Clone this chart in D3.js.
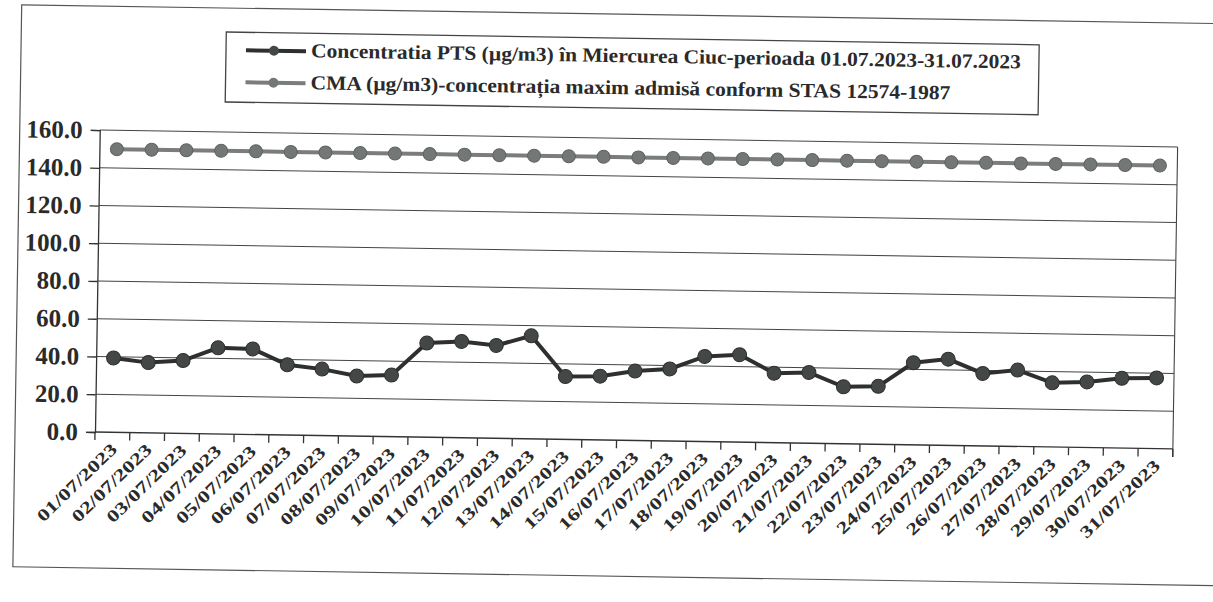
<!DOCTYPE html>
<html><head><meta charset="utf-8">
<script src="https://cdn.jsdelivr.net/npm/d3@7/dist/d3.min.js"></script>
<style>html,body{margin:0;padding:0;background:#fff;}svg{display:block;}</style>
</head><body>
<svg id="c" width="1213" height="602"></svg>
<script>
const dates = ["01/07/2023","02/07/2023","03/07/2023","04/07/2023","05/07/2023","06/07/2023","07/07/2023","08/07/2023","09/07/2023","10/07/2023","11/07/2023","12/07/2023","13/07/2023","14/07/2023","15/07/2023","16/07/2023","17/07/2023","18/07/2023","19/07/2023","20/07/2023","21/07/2023","22/07/2023","23/07/2023","24/07/2023","25/07/2023","26/07/2023","27/07/2023","28/07/2023","29/07/2023","30/07/2023","31/07/2023"];
const pts = [39.4,37.2,38.6,45.6,45.3,37.2,35.2,31.8,32.6,49.9,51.0,49.2,54.6,33.3,33.8,36.8,38.2,45.1,46.3,36.8,37.5,30.2,30.7,43.5,45.7,38.4,40.5,34.0,34.8,37.0,37.5];
const cma = dates.map(() => 150);
const yTicks = [0,20,40,60,80,100,120,140,160];
const legendLabels = ["Concentratia PTS (µg/m3) în Miercurea Ciuc-perioada 01.07.2023-31.07.2023","CMA (µg/m3)-concentrația maxim admisă conform STAS 12574-1987"];

const svg = d3.select("#c");
const g = svg.append("g").attr("transform","rotate(0.9,95,432)");
const serif = "'Liberation Serif','Times New Roman',serif";

// outer frame
g.append("rect").attr("x",15).attr("y",6).attr("width",1240).attr("height",562)
  .attr("fill","none").attr("stroke","#555").attr("stroke-width",1.2);

const x = d3.scaleBand().domain(dates).range([95,1173]).padding(0);
const y = d3.scaleLinear().domain([0,160]).range([432,130]);
const cx = d => x(d) + x.bandwidth()/2;

// gridlines
g.append("g").selectAll("line").data(yTicks.filter(t=>t>0)).join("line")
  .attr("x1",95).attr("x2",1173).attr("y1",d=>y(d)).attr("y2",d=>y(d))
  .attr("stroke","#444").attr("stroke-width",1.1);
// right border
g.append("line").attr("x1",1173).attr("x2",1173).attr("y1",y(160)).attr("y2",y(0)+8)
  .attr("stroke","#444").attr("stroke-width",1.1);

// y axis
const ya = g.append("g").attr("transform","translate(95,0)")
  .call(d3.axisLeft(y).tickValues(yTicks).tickFormat(d3.format(".1f")).tickSize(9).tickPadding(8));
ya.attr("font-family",serif);
ya.select(".domain").attr("stroke","#333").attr("stroke-width",1.3);
ya.selectAll(".tick line").attr("stroke","#333").attr("stroke-width",1.3);
ya.selectAll("text").style("font-family",serif).attr("font-weight","bold").attr("font-size",25).attr("fill","#2a2a2a");

// x axis
g.append("line").attr("x1",95).attr("x2",1173).attr("y1",y(0)).attr("y2",y(0)).attr("stroke","#333").attr("stroke-width",1.3);
const bounds = dates.map(d => x(d)).concat([x.range()[1]]);
g.append("g").selectAll("line").data(bounds).join("line")
  .attr("x1",d=>d).attr("x2",d=>d).attr("y1",y(0)).attr("y2",y(0)+8)
  .attr("stroke","#333").attr("stroke-width",1.3);
g.append("g").selectAll("text").data(dates).join("text")
  .attr("transform",d=>`translate(${cx(d)+6},${y(0)+18}) rotate(-45)`)
  .attr("text-anchor","end").style("font-family",serif).attr("font-weight","bold")
  .attr("font-size",17).attr("fill","#2a2a2a")
  .attr("textLength",104).attr("lengthAdjust","spacingAndGlyphs")
  .text(d=>d);

// lines
const line = d3.line().x((v,i)=>cx(dates[i])).y(v=>y(v));
g.append("path").datum(cma).attr("d",line).attr("fill","none").attr("stroke","#7a7d7b").attr("stroke-width",4);
g.append("g").selectAll("circle").data(cma).join("circle")
  .attr("cx",(v,i)=>cx(dates[i])).attr("cy",v=>y(v)).attr("r",6.5)
  .attr("fill","#737876").attr("stroke","#5e6361").attr("stroke-width",1);
g.append("path").datum(pts).attr("d",line).attr("fill","none").attr("stroke","#2e302f").attr("stroke-width",4);
g.append("g").selectAll("circle").data(pts).join("circle")
  .attr("cx",(v,i)=>cx(dates[i])).attr("cy",v=>y(v)).attr("r",7)
  .attr("fill","#434846").attr("stroke","#2e302f").attr("stroke-width",1);

// legend
const lg = g.append("g");
lg.append("rect").attr("x",220).attr("y",30).attr("width",813).attr("height",70)
  .attr("fill","#fff").attr("stroke","#444").attr("stroke-width",1.3);
const legCol = [["#2e302f","#434846"],["#7a7d7b","#737876"]];
const legW = [710,640];
legendLabels.forEach((t,i)=>{
  const yy = 48 + i*32;
  lg.append("line").attr("x1",240).attr("x2",300).attr("y1",yy).attr("y2",yy).attr("stroke",legCol[i][0]).attr("stroke-width",4);
  lg.append("circle").attr("cx",268).attr("cy",yy).attr("r",5).attr("fill",legCol[i][1]);
  lg.append("text").attr("x",305).attr("y",yy+6).style("font-family",serif).attr("font-weight","bold")
    .attr("font-size",20).attr("fill","#2a2a2a").attr("textLength",legW[i]).attr("lengthAdjust","spacingAndGlyphs").text(t);
});
</script>
</body></html>
